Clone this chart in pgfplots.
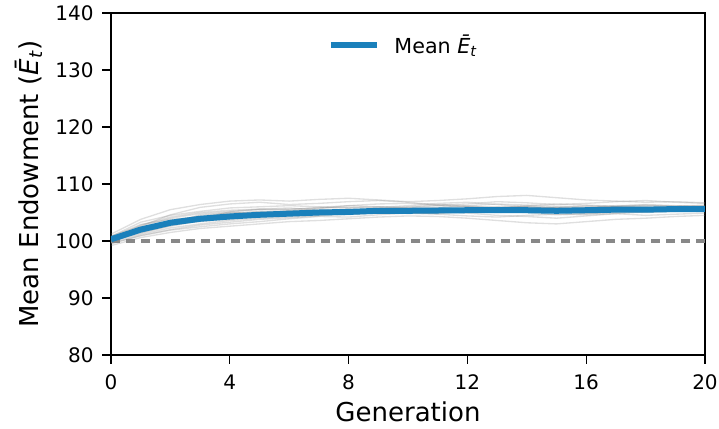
\documentclass[border=0pt]{standalone}
\usepackage{fontspec}
\setmainfont{DejaVu Sans}
\usepackage{pgfplots}
\usepackage{pgfplotstable}
\pgfplotsset{compat=1.18}

\definecolor{meanblue}{RGB}{26,128,187}
\definecolor{refgray}{RGB}{136,136,136}

% generation, eighteen runs, mean across runs
\pgfplotstableread{
gen r1 r2 r3 r4 r5 r6 r7 r8 r9 r10 r11 r12 r13 r14 r15 r16 r17 r18 mean
0 100.5 99.8 100.2 100.6 99.5 100.8 100.1 100.4 99.9 100.3 100.0 100.7 101.2 99.2 100.9 99.6 100.4 100.0 100.3
1 102.5 101.2 102.8 101.5 101.0 103.3 101.8 102.2 101.6 102.4 101.4 102.9 103.8 100.6 102.6 100.9 102.0 101.9 102.0
2 104.0 102.3 104.2 102.6 102.0 104.5 103.0 103.6 102.9 103.4 102.7 103.8 105.5 101.5 104.6 101.9 103.1 103.4 103.2
3 104.8 103.0 105.0 103.5 102.8 105.2 103.4 104.4 103.8 104.1 103.6 104.2 106.4 102.2 105.9 102.5 104.6 104.0 103.9
4 105.2 103.6 105.4 104.1 103.3 105.8 103.8 104.9 104.0 104.6 104.3 104.8 107.0 102.6 106.5 103.0 105.0 105.1 104.3
5 105.5 104.0 105.6 104.2 103.8 106.0 104.3 105.1 104.6 104.7 104.5 105.2 107.2 103.0 106.8 103.4 104.8 105.6 104.6
6 105.6 104.3 105.5 104.6 104.1 106.2 104.5 105.0 104.9 105.0 104.6 105.3 107.0 103.4 106.4 103.9 105.3 105.8 104.8
7 105.8 104.5 105.9 104.8 104.4 106.0 104.9 105.2 105.1 105.3 104.7 105.4 107.3 103.6 106.6 104.3 105.7 105.4 105.0
8 105.9 104.9 106.2 104.6 104.7 105.8 105.1 105.4 105.3 105.2 105.0 105.6 107.5 103.9 106.9 104.2 106.2 105.3 105.1
9 106.0 105.0 106.5 105.0 104.9 105.9 105.3 105.6 105.0 105.5 105.2 105.4 107.2 104.2 107.1 104.6 106.0 105.7 105.3
10 105.8 105.2 106.6 104.8 105.0 106.2 105.5 105.3 105.1 105.7 105.0 105.6 106.9 104.4 106.8 104.9 105.9 106.0 105.3
11 105.9 105.1 106.4 104.9 105.3 106.6 105.2 105.5 105.4 105.6 104.8 105.8 107.1 104.3 106.3 104.7 106.2 106.3 105.35
12 106.1 105.0 106.2 105.1 105.5 106.8 104.9 105.7 105.3 105.4 105.2 105.6 107.4 104.0 106.5 104.4 106.0 106.1 105.4
13 106.0 105.2 106.5 105.2 105.4 106.4 104.5 105.9 105.0 105.8 105.5 105.5 107.8 103.6 106.9 104.2 105.7 105.8 105.4
14 105.8 105.3 106.3 105.0 105.6 106.0 104.3 106.1 105.2 106.0 105.4 105.7 108.0 103.2 106.7 104.5 105.3 106.2 105.4
15 105.7 105.0 106.1 104.6 105.8 105.6 104.0 105.9 105.4 105.8 105.2 105.9 107.6 103.0 106.4 104.7 105.0 106.5 105.3
16 105.9 105.2 106.0 104.8 105.6 105.8 104.4 105.7 105.6 105.5 105.3 106.2 107.2 103.4 106.6 104.6 104.8 106.3 105.4
17 106.0 105.3 106.2 105.0 105.5 106.1 104.8 105.8 105.4 105.6 105.2 106.0 107.0 103.8 106.9 104.8 105.1 106.1 105.5
18 106.2 105.4 106.3 105.2 105.7 106.0 105.1 105.6 105.3 105.8 105.0 105.9 106.8 104.0 107.1 104.5 105.6 106.4 105.5
19 106.1 105.5 106.1 105.3 105.8 105.9 105.3 105.7 105.5 106.0 105.2 105.8 106.9 104.3 106.8 104.7 106.1 106.2 105.6
20 106.0 105.6 106.3 105.4 105.9 105.8 105.4 105.9 105.3 105.7 105.4 105.6 106.7 104.5 106.6 104.9 106.2 106.0 105.6
}\runs

\begin{document}
\begin{tikzpicture}
\begin{axis}[
    name=main,
    at={(0,0)}, anchor=south west,
    scale only axis,
    width=445.5pt, height=256.5pt,
    xmin=0, xmax=20, ymin=80, ymax=140,
    xtick={0,4,...,20},
    ytick={80,90,...,140},
    tick align=outside,
    xtick pos=bottom, ytick pos=left,
    major tick length=6.5pt,
    every tick/.style={black, line width=0.9pt},
    axis line style={line width=0.9pt},
    /pgf/number format/assume math mode=true,
    tick label style={font=\fontsize{15}{18}\selectfont},
    xticklabel style={yshift=-5pt},
    yticklabel style={xshift=-3pt},
    label style={font=\fontsize{19.5}{24}\selectfont},
    xlabel={Generation},
    xlabel style={yshift=-2pt},
    ylabel={Mean Endowment (\textit{Ē}\textsubscript{\textit{t}})},
    ylabel style={yshift=3pt},
    legend style={at={(0.493,0.953)}, anchor=north, draw=none, fill=none,
        font=\fontsize{15.5}{18}\selectfont},
    legend cell align=left,
    legend image code/.code={\draw[#1] (0pt,0pt) -- (35pt,0pt);},
]
\pgfplotsinvokeforeach{1,...,18}{
    \addplot[forget plot, gray, opacity=0.25, line width=1pt] table[x=gen, y=r#1]{\runs};
}
\addplot[forget plot, refgray, line width=2.5pt, dash pattern=on 6.75pt off 4.5pt] coordinates {(0,100) (20,100)};
\addplot[meanblue, line width=4.5pt] table[x=gen, y=mean]{\runs};
\addlegendentry{\hspace{8.5pt}Mean \textit{Ē}\textsubscript{\textit{t}}}
\end{axis}
\pgfresetboundingbox
\path (-83.25pt,-55.5pt) rectangle (456pt,266.25pt);
\end{tikzpicture}
\end{document}
